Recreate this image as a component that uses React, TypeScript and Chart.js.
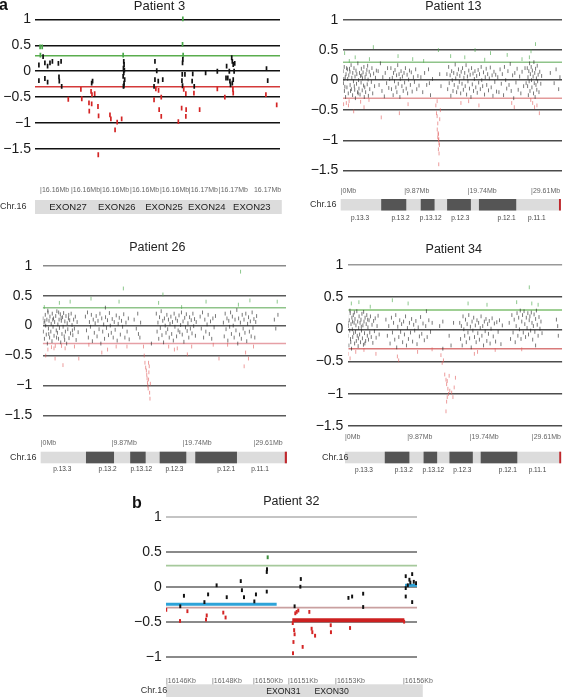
import { useEffect, useRef } from "react";
import { Chart, registerables } from "chart.js";
Chart.register(...registerables);

const FONT = "'Liberation Sans', Arial, Helvetica, sans-serif";

// ---------- shared axis data ----------
const yTicks = [1, 0.5, 0, -0.5, -1, -1.5];
const yTickLabels = ["1", "0.5", "0", "−0.5", "−1", "−1.5"];
const yTicks32 = [1, 0.5, 0, -0.5, -1];
const yTickLabels32 = ["1", "0.5", "0", "−0.5", "−1"];
const gainCut = 0.3;
const lossCut = -0.3;

// ---------- chromosome 16p ideogram (Mb) ----------
const chrTickPos = [0, 9.87, 19.74, 29.61];
const chrTickLabels = ["|0Mb", "|9.87Mb", "|19.74Mb", "|29.61Mb"];
const chrStart = 0;
const chrEnd = 34.25;
const bandStart = [6.3, 12.45, 16.55, 21.5];
const bandEnd = [10.2, 14.6, 20.25, 27.3];
const cenStart = 33.95;
const bandLabels = ["p.13.3", "p.13.2", "p.13.12", "p.12.3", "p.12.1", "p.11.1"];
const bandLabelPos = [3.0, 9.3, 14.0, 18.6, 25.8, 30.5];

// ---------- Patient 3 (kb) ----------
const p3TickPos = [16155.17, 16156.2, 16157.17, 16158.17, 16159.17, 16160.13, 16161.13, 16162.3];
const p3TickLabels = ["|16.16Mb", "|16.16Mb", "|16.16Mb", "|16.16Mb", "|16.16Mb", "|16.17Mb", "|16.17Mb", "16.17Mb"];
const p3Exons = ["EXON27", "EXON26", "EXON25", "EXON24", "EXON23"];
const p3ExonPos = [16156.1, 16157.73, 16159.3, 16160.73, 16162.23];
const p3Points: [number, number][] = [
  [16155.17, 0.47], [16155.24, 0.47], [16155.18, 0.31], [16155.27, 0.28], [16155.13, 0.12], [16155.33, 0.16],
  [16155.42, 0.1], [16155.5, 0.16], [16155.58, 0.19], [16155.13, -0.18], [16155.33, -0.14], [16155.42, -0.21],
  [16155.78, 0.15], [16155.87, 0.19], [16155.8, -0.11], [16155.81, -0.19], [16155.89, -0.29], [16156.11, -0.54],
  [16156.53, -0.35], [16156.56, -0.53], [16156.89, -0.23], [16156.92, -0.19], [16156.87, -0.39], [16156.9, -0.45],
  [16156.99, -0.43], [16156.8, -0.61], [16156.81, -0.77], [16156.89, -0.63], [16157.1, -0.68], [16157.12, -0.86],
  [16157.5, -0.84], [16157.53, -0.92], [16157.74, -0.98], [16157.67, -1.13], [16157.89, -0.92], [16157.11, -1.61],
  [16157.94, 0.31], [16157.96, 0.19], [16157.97, 0.13], [16157.95, 0.06], [16157.98, 0.02], [16157.96, -0.03],
  [16157.94, -0.1], [16157.99, -0.16], [16157.97, -0.23], [16157.96, -0.28], [16157.95, -0.29],
  [16159.0, 0.19], [16159.06, 0.01], [16159.0, -0.16], [16159.11, -0.19], [16159.26, -0.16], [16158.97, -0.29],
  [16159.03, -0.34], [16159.12, -0.37], [16159.21, -0.5], [16158.97, -0.55], [16159.14, -0.74], [16159.21, -0.87],
  [16159.78, -0.97], [16159.93, 1.01], [16159.92, 0.52], [16159.94, 0.31], [16159.93, 0.23], [16159.92, 0.16],
  [16159.91, -0.06], [16160.0, -0.06], [16159.9, -0.18], [16159.92, -0.28], [16159.96, -0.35], [16160.03, -0.43],
  [16159.89, -0.71], [16160.04, -0.74], [16160.03, -0.87], [16160.26, -0.05], [16160.31, -0.29], [16160.24, -0.19],
  [16160.3, -0.42], [16160.49, -0.74], [16160.69, -0.03], [16161.08, 0.0], [16161.08, -0.34], [16161.33, -0.5],
  [16161.39, 0.1], [16161.48, 0.0], [16161.37, -0.13], [16161.43, -0.13], [16161.5, -0.19], [16161.56, 0.26],
  [16161.58, 0.19], [16161.61, 0.13], [16161.66, 0.15], [16161.64, 0.0], [16161.61, -0.16], [16161.58, -0.23],
  [16161.52, -0.26], [16161.6, -0.35], [16161.61, -0.42], [16162.72, 0.05], [16162.76, -0.18], [16162.7, -0.45],
  [16163.06, -0.65],
];

// ---------- Patient 13 (Mb) ----------
const p13Points: [number, number][] = [
  [0.37, 0.15], [0.42, -0.05], [0.55, 0.22], [0.58, -0.18], [0.71, 0.05], [0.76, -0.28], [0.83, 0.1], [0.97, -0.12],
  [1.04, 0.18], [1.09, 0.02], [1.18, -0.22], [1.26, 0.08], [1.31, -0.35], [1.44, 0.14], [1.47, -0.08], [1.62, 0.25],
  [1.66, -0.15], [1.73, 0.04], [1.85, -0.25], [1.88, 0.12], [1.99, -0.02], [2.07, 0.2], [2.12, -0.1], [2.23, 0.06],
  [2.29, -0.3], [2.38, 0.16], [2.46, -0.06], [2.51, 0.1], [2.63, -0.2], [2.67, 0.28], [2.78, 0.0], [2.84, -0.14],
  [2.93, 0.12], [3.01, -0.24], [3.08, 0.07], [3.17, -0.04], [3.22, 0.19], [3.35, -0.17], [3.39, 0.03], [3.48, 0.13],
  [3.56, -0.09], [3.61, 0.22], [3.74, -0.12], [3.79, 0.05], [3.88, -0.2], [3.95, 0.1], [4.07, 0.17], [4.13, -0.07],
  [4.26, 0.01], [4.31, -0.26], [4.44, 0.14], [4.52, -0.15], [4.63, 0.08], [4.77, -0.03], [4.86, 0.2], [4.98, -0.22],
  [5.12, 0.11], [5.27, -0.1], [5.41, 0.04], [5.55, 0.16], [0.49, 0.02], [0.92, 0.2], [1.53, -0.18], [2.18, -0.16],
  [2.72, -0.22], [3.28, 0.08], [3.67, -0.28], [4.19, 0.24], [0.65, -0.11], [1.37, 0.19],
  [0.61, 0.45], [1.21, -0.42], [2.26, 0.38], [3.63, -0.45], [5.08, 0.55], [4.47, 0.35], [2.02, -0.52], [1.34, 0.32],
  [0.88, -0.38], [0.45, -0.4], [3.1, -0.36], [4.4, -0.33],
  [5.83, 0.15], [5.97, -0.08], [6.18, 0.28], [6.42, -0.18], [6.55, 0.05], [6.79, -0.27], [6.93, 0.12], [7.14, -0.05],
  [7.29, 0.2], [7.48, -0.13], [7.62, 0.02], [6.31, -0.62],
  [7.81, 0.2], [7.9, -0.15], [8.03, 0.04], [8.16, -0.25], [8.22, 0.12], [8.37, -0.02], [8.45, 0.17], [8.58, -0.12],
  [8.69, 0.08], [8.74, -0.2], [8.87, 0.25], [8.96, -0.06], [9.08, 0.1], [9.21, -0.28], [9.27, 0.02], [9.39, 0.15],
  [9.52, -0.1], [9.6, 0.06], [9.73, -0.18], [9.85, 0.12], [9.94, -0.04], [10.07, 0.2], [10.19, -0.14], [10.33, 0.09],
  [10.41, -0.22], [10.56, 0.01], [10.7, 0.16], [10.84, -0.08], [10.98, 0.13], [11.12, -0.19], [11.31, 0.05], [11.47, -0.03],
  [11.66, 0.18], [11.83, -0.15], [12.01, 0.07], [12.18, -0.09], [8.92, 0.4], [10.48, -0.4], [9.13, -0.55], [11.2, 0.35],
  [12.47, 0.05], [12.76, -0.2], [13.05, 0.12], [13.38, -0.08], [13.66, 0.18], [13.97, -0.25], [14.28, 0.02], [12.9, 0.32],
  [13.8, -0.05],
  [14.8, -0.42], [14.9, -0.55], [15.0, -0.6], [15.1, -0.72], [15.02, -0.82], [15.2, -0.9], [15.1, -0.95], [15.22, -1.0],
  [15.3, -1.05], [15.15, -0.88], [15.25, -0.98], [15.35, -1.08], [15.2, -1.15], [15.3, -1.22], [15.25, -1.4], [15.4, -0.65],
  [15.5, -0.5], [15.0, -0.35], [15.4, 0.1], [15.6, -0.1], [15.2, 0.5],
  [16.52, 0.1], [16.64, -0.15], [16.79, 0.22], [16.88, -0.05], [17.02, 0.08], [17.13, -0.26], [17.26, 0.15], [17.35, 0.0],
  [17.47, -0.18], [17.58, 0.12], [17.66, -0.08], [17.81, 0.26], [17.89, 0.03], [18.03, -0.2], [18.11, 0.1], [18.24, -0.12],
  [18.32, 0.18], [18.45, -0.03], [18.53, 0.07], [18.66, -0.22], [18.74, 0.14], [18.87, -0.06], [18.95, 0.2], [19.08, -0.16],
  [19.16, 0.04], [19.29, 0.12], [19.37, -0.1], [19.5, 0.25], [19.58, -0.24], [19.71, 0.06], [19.79, -0.02], [19.92, 0.16],
  [20.03, -0.14], [20.14, 0.09], [20.26, -0.28], [20.35, 0.2], [20.47, -0.07], [20.58, 0.11], [20.66, -0.18], [20.79, 0.02],
  [20.88, 0.15], [21.01, -0.12], [21.15, 0.07], [21.24, -0.21], [21.38, 0.17], [21.46, -0.04], [21.59, 0.1], [21.72, -0.15],
  [21.85, 0.22], [21.94, 0.0], [22.08, -0.1], [22.21, 0.13], [22.37, -0.24], [22.49, 0.05], [22.63, 0.19], [22.71, -0.08],
  [22.86, 0.1], [22.99, -0.17], [23.12, 0.03], [23.27, 0.21], [23.41, -0.12], [23.55, 0.08], [23.68, -0.26], [23.84, 0.14],
  [23.97, -0.03], [24.11, 0.09], [24.24, -0.19], [17.1, 0.4], [19.3, 0.38], [21.5, -0.42], [23.3, 0.45], [18.7, -0.38],
  [20.9, 0.5], [19.9, -0.35], [22.4, 0.34],
  [24.43, 0.05], [24.61, -0.2], [24.79, 0.18], [24.98, -0.06], [25.14, 0.1], [25.33, -0.25], [25.47, 0.22], [25.66, 0.0],
  [25.82, -0.14], [26.01, 0.15], [26.18, -0.08], [26.37, 0.27], [26.52, -0.18], [26.74, 0.08], [26.91, -0.3], [27.08, 0.12],
  [27.26, -0.04], [27.44, 0.19], [27.61, -0.16], [27.83, 0.06], [28.02, -0.22], [28.21, 0.14], [28.45, -0.1], [28.67, 0.2],
  [28.84, -0.05], [25.9, 0.42], [27.0, -0.45], [28.2, 0.35], [26.6, -0.38],
  [29.02, 0.2], [29.07, -0.1], [29.13, 0.05], [29.19, -0.25], [29.26, 0.15], [29.31, -0.02], [29.38, 0.28], [29.44, -0.18],
  [29.5, 0.1], [29.56, -0.33], [29.63, 0.22], [29.68, 0.0], [29.74, -0.12], [29.81, 0.16], [29.86, -0.38], [29.93, 0.06],
  [29.99, -0.22], [30.05, 0.3], [30.11, -0.05], [30.18, 0.12], [30.24, -0.28], [30.31, 0.19], [30.37, -0.08], [30.44, 0.03],
  [30.5, -0.16], [30.57, 0.24], [30.63, -0.02], [30.71, 0.09], [30.84, -0.2], [30.96, 0.14], [31.12, -0.06], [31.25, 0.07],
  [29.6, 0.48], [30.3, 0.6], [30.9, -0.55], [30.52, -0.42], [29.35, 0.38], [30.15, -0.45],
  [32.6, 0.12], [33.2, -0.05], [33.5, 0.18], [33.9, -0.15], [34.1, 0.05],
];

// ---------- Patient 26 (Mb) ----------
const p26Points: [number, number][] = [
  [0.31, 0.12], [0.36, -0.1], [0.47, 0.05], [0.52, -0.22], [0.64, 0.18], [0.69, 0.0], [0.78, -0.15], [0.86, 0.1],
  [0.93, -0.3], [1.02, 0.22], [1.08, -0.05], [1.16, 0.08], [1.24, -0.2], [1.29, 0.15], [1.41, -0.1], [1.46, 0.03],
  [1.57, -0.26], [1.61, 0.2], [1.72, -0.02], [1.79, 0.12], [1.86, -0.17], [1.94, 0.06], [2.03, -0.34], [2.09, 0.16],
  [2.17, -0.08], [2.25, 0.24], [2.33, -0.12], [2.39, 0.02], [2.48, -0.22], [2.56, 0.1], [2.61, -0.04], [2.73, 0.19],
  [2.79, -0.28], [2.87, 0.08], [2.96, -0.14], [3.04, 0.14], [3.12, -0.02], [3.19, 0.21], [3.27, -0.18], [3.36, 0.07],
  [3.44, -0.1], [3.52, 0.16], [3.61, -0.3], [3.69, 0.04], [3.77, -0.06], [3.86, 0.12], [3.94, -0.21], [4.03, 0.09],
  [4.15, -0.13], [4.24, 0.2], [4.36, 0.01], [4.47, -0.16], [4.58, 0.1], [4.69, -0.05], [4.82, 0.15], [4.93, -0.24],
  [5.07, 0.06], [5.21, -0.11], [0.58, 0.08], [1.12, -0.14], [1.68, 0.1], [2.21, -0.2], [2.84, 0.13], [3.33, -0.24],
  [3.9, 0.18], [4.41, -0.08], [0.99, 0.25], [2.5, 0.22],
  [0.5, 0.31], [1.0, -0.4], [1.5, -0.36], [2.0, -0.55], [3.1, -0.66], [2.6, 0.38], [4.1, 0.4], [3.4, -0.38], [0.7, -0.5],
  [4.7, -0.35], [5.3, -0.55], [1.85, -0.38], [2.9, -0.34],
  [6.22, 0.15], [6.37, -0.08], [6.51, 0.22], [6.63, -0.2], [6.78, 0.06], [6.92, -0.02], [7.05, 0.18], [7.19, -0.26],
  [7.31, 0.1], [7.46, -0.12], [7.58, 0.04], [7.72, 0.16], [7.84, -0.18], [7.97, 0.08], [8.12, -0.06], [8.24, 0.2],
  [8.37, -0.3], [8.49, 0.12], [8.63, -0.1], [8.76, 0.02], [8.88, -0.22], [9.02, 0.14], [9.15, -0.04], [9.29, 0.09],
  [9.43, -0.16], [9.56, 0.21], [9.68, 0.0], [9.82, -0.12], [9.95, 0.11], [10.09, -0.2], [10.23, 0.06], [10.36, -0.07],
  [10.51, 0.17], [10.64, -0.25], [10.78, 0.03], [10.93, 0.13], [11.08, -0.15], [11.24, 0.08], [11.39, -0.02], [11.55, 0.19],
  [11.71, -0.2], [11.86, 0.05], [12.02, -0.1], [12.19, 0.12], [12.31, -0.23],
  [7.0, 0.45], [8.5, -0.45], [9.0, 0.3], [10.5, -0.35], [11.5, 0.62], [12.0, -0.35], [6.7, -0.32], [10.9, 0.4], [9.3, -0.4],
  [13.0, 0.1], [13.3, -0.05], [13.6, -0.14], [13.8, -0.2], [13.5, 0.2], [13.9, 0.05],
  [14.3, -0.35], [14.4, -0.5], [14.5, -0.62], [14.6, -0.7], [14.7, -0.75], [14.75, -0.82], [14.8, -0.88], [14.85, -0.95],
  [14.9, -1.0], [14.95, -1.05], [15.0, -0.9], [15.05, -0.78], [15.1, -0.68], [15.15, -1.12], [15.2, -1.22], [15.25, -0.97],
  [15.0, -0.62], [15.4, -0.3],
  [16.08, 0.2], [16.19, -0.1], [16.31, 0.05], [16.42, -0.22], [16.53, 0.14], [16.64, -0.04], [16.76, 0.24], [16.87, -0.16],
  [16.98, 0.08], [17.09, -0.28], [17.21, 0.12], [17.32, 0.0], [17.43, -0.12], [17.55, 0.18], [17.66, -0.06], [17.77, 0.1],
  [17.88, -0.2], [17.99, 0.03], [18.11, 0.15], [18.22, -0.14], [18.33, 0.06], [18.45, -0.25], [18.56, 0.2], [18.67, -0.02],
  [18.78, 0.12], [18.9, -0.18], [19.01, 0.08], [19.12, -0.08], [19.24, 0.17], [19.35, -0.11], [19.46, 0.01], [19.58, 0.22],
  [19.69, -0.15], [19.8, 0.07], [19.92, -0.27], [20.03, 0.13], [20.14, -0.03], [20.26, 0.19], [20.37, -0.09], [20.48, 0.04],
  [20.6, -0.2], [20.71, 0.14], [20.82, -0.05], [20.94, 0.09], [21.05, -0.13], [21.17, 0.2], [21.28, -0.01], [21.4, 0.11],
  [21.52, -0.17], [21.63, 0.06], [16.4, 0.38], [17.8, -0.35], [18.6, -0.4], [19.6, 0.31], [20.4, -0.48], [21.0, -0.35],
  [19.0, -0.38], [17.0, 0.52],
  [22.18, 0.15], [22.34, -0.05], [22.51, 0.22], [22.66, -0.2], [22.83, 0.1], [22.97, -0.1], [23.14, 0.02], [23.29, 0.18],
  [23.46, -0.14], [23.62, 0.07], [23.79, -0.22], [23.95, 0.12], [24.12, -0.03], [24.31, 0.16], [23.0, 0.4], [24.0, -0.32],
  [25.41, 0.05], [25.53, -0.18], [25.66, 0.2], [25.78, -0.06], [25.91, 0.12], [26.03, -0.25], [26.16, 0.08], [26.28, -0.02],
  [26.41, 0.22], [26.53, -0.14], [26.66, 0.15], [26.78, 0.0], [26.91, -0.2], [27.03, 0.1], [27.16, -0.08], [27.28, 0.26],
  [27.41, -0.3], [27.53, 0.12], [27.66, -0.15], [27.78, 0.05], [27.91, -0.22], [28.03, 0.18], [28.16, -0.05], [28.28, 0.1],
  [28.41, -0.12], [28.53, 0.2], [28.66, -0.26], [28.78, 0.03], [28.91, 0.14], [29.03, -0.1], [29.16, 0.07], [29.28, -0.18],
  [29.41, 0.22], [29.53, -0.04], [29.66, 0.11], [29.78, -0.2], [29.91, 0.06], [30.03, 0.16],
  [26.0, -0.32], [27.8, 0.9], [28.5, -0.45], [29.1, 0.42], [28.9, -0.55], [29.6, -0.35], [28.3, -0.68], [27.5, 0.35],
  [24.8, -0.55], [32.5, 0.1], [32.7, -0.05], [32.9, 0.4], [33.0, 0.18],
];

// ---------- Patient 34 (Mb) ----------
const p34Points: [number, number][] = [
  [0.41, 0.2], [0.46, -0.1], [0.54, 0.05], [0.61, -0.25], [0.67, 0.14], [0.74, -0.02], [0.82, 0.25], [0.87, -0.15],
  [0.95, 0.08], [1.03, -0.3], [1.09, 0.18], [1.16, 0.0], [1.22, -0.12], [1.31, 0.22], [1.37, -0.06], [1.44, 0.1],
  [1.52, -0.22], [1.58, 0.16], [1.66, -0.04], [1.73, 0.06], [1.79, -0.18], [1.87, 0.28], [1.94, -0.1], [2.01, 0.12],
  [2.08, -0.26], [2.16, 0.02], [2.23, 0.2], [2.31, -0.08], [2.38, 0.1], [2.46, -0.2], [2.53, 0.15], [2.61, -0.02],
  [2.68, 0.24], [2.76, -0.14], [2.83, 0.06], [2.92, -0.24], [3.01, 0.12], [3.09, -0.06], [3.18, 0.18], [3.27, -0.18],
  [3.36, 0.08], [3.45, 0.22], [3.54, -0.1], [3.63, 0.03], [3.72, -0.16], [3.81, 0.14], [3.92, -0.05], [4.03, 0.2],
  [4.16, -0.12], [4.28, 0.07], [4.41, -0.21], [4.53, 0.13], [4.66, -0.03], [4.79, 0.17], [4.93, -0.13], [5.08, 0.05],
  [5.24, 0.21], [5.41, -0.08], [0.5, 0.1], [0.91, -0.2], [1.48, 0.26], [2.12, -0.14], [2.58, 0.04], [3.14, -0.22],
  [3.59, 0.15], [0.78, 0.29], [1.2, 0.12], [2.95, 0.27],
  [0.5, -0.38], [1.0, 0.4], [1.7, -0.35], [2.2, 0.42], [3.0, -0.32], [4.0, 0.35], [4.9, -0.38], [0.8, -0.45],
  [6.48, 0.15], [6.71, -0.1], [6.93, 0.05], [7.14, -0.22], [7.36, 0.18], [7.52, -0.05], [7.69, 0.1], [7.88, -0.16],
  [8.04, 0.22], [8.19, -0.28], [8.36, 0.04], [8.52, -0.12], [8.67, 0.14], [8.81, -0.04], [8.97, 0.08], [9.13, -0.2],
  [9.28, 0.12], [9.42, -0.08], [9.59, 0.2], [9.74, -0.25], [9.89, 0.02], [10.05, -0.15], [10.21, 0.1], [10.38, -0.05],
  [10.55, 0.16], [10.71, -0.19], [10.88, 0.07], [11.04, -0.02], [11.23, 0.13], [11.41, -0.23], [11.6, 0.03], [11.79, -0.11],
  [11.97, 0.19], [12.16, -0.07], [12.36, 0.09], [12.57, -0.17], [12.79, 0.05], [13.02, -0.12], [13.28, 0.14], [13.55, -0.04],
  [13.81, 0.1], [7.5, 0.45], [8.3, -0.42], [8.5, -0.48], [10.0, 0.4], [11.5, -0.35], [12.9, 0.28], [13.8, -0.31],
  [15.0, 0.05], [15.5, 0.12], [16.5, -0.1],
  [15.2, -0.4], [15.4, -0.52], [15.6, -0.48], [15.8, -0.7], [16.0, -0.78], [16.1, -0.85], [16.2, -0.8], [16.3, -0.92],
  [16.4, -1.0], [16.2, -1.05], [16.1, -1.12], [16.5, -0.72], [16.6, -0.95], [16.9, -0.98], [17.1, -1.05], [17.3, -0.9],
  [17.5, -0.75], [16.0, -1.27], [15.5, -0.3], [16.8, -0.25], [17.2, 0.1],
  [18.18, 0.1], [18.31, -0.15], [18.44, 0.05], [18.57, -0.25], [18.7, 0.2], [18.83, 0.0], [18.96, -0.1], [19.09, 0.15],
  [19.22, -0.2], [19.35, 0.08], [19.48, -0.05], [19.61, 0.22], [19.74, -0.14], [19.87, 0.04], [20.0, -0.28], [20.13, 0.12],
  [20.26, -0.02], [20.39, 0.18], [20.52, -0.12], [20.65, 0.06], [20.78, -0.2], [20.91, 0.14], [21.04, -0.06], [21.17, 0.1],
  [21.3, -0.16], [21.43, 0.02], [21.56, 0.2], [21.69, -0.1], [21.82, 0.05], [21.95, -0.25], [22.08, 0.12], [22.21, -0.03],
  [22.34, 0.16], [22.47, -0.18], [22.6, 0.08], [22.73, -0.07], [22.86, 0.13], [22.99, -0.22], [23.14, 0.01], [23.31, 0.17],
  [23.49, -0.11], [23.67, 0.09], [23.86, -0.19], [24.05, 0.11], [24.26, -0.04], [24.48, 0.14], [24.71, -0.23], [24.93, 0.06],
  [19.5, 0.4], [21.0, -0.35], [22.5, 0.38], [23.8, -0.32], [20.5, -0.38],
  [26.02, 0.1], [26.23, -0.15], [26.44, 0.22], [26.63, -0.05], [26.81, 0.15], [26.97, -0.2], [27.12, 0.05], [27.26, 0.25],
  [27.39, -0.1], [27.52, 0.18], [27.64, 0.0], [27.77, 0.29], [27.89, -0.15], [28.01, 0.12], [28.13, 0.22], [28.25, -0.05],
  [28.37, 0.28], [28.49, 0.08], [28.61, -0.12], [28.73, 0.18], [28.85, 0.02], [28.97, 0.25], [29.08, -0.08], [29.19, 0.14],
  [29.3, 0.2], [29.41, -0.02], [29.52, 0.26], [29.63, 0.1], [29.74, -0.16], [29.85, 0.05], [29.96, 0.23], [30.08, -0.04],
  [30.2, 0.16], [30.33, 0.29], [30.46, 0.07], [30.6, -0.1], [30.74, 0.19], [30.89, 0.01], [31.05, 0.12], [31.22, -0.06],
  [29.2, 0.65], [29.6, 0.4], [30.6, 0.38], [28.0, -0.31], [30.2, -0.25], [27.2, 0.42], [33.5, 0.15], [33.8, -0.1], [33.7, 0.05],
];

// ---------- Patient 32 (kb) ----------
const p32TickPos = [16146.0, 16148.0, 16149.78, 16151.3, 16153.35, 16156.3];
const p32TickLabels = ["|16146Kb", "|16148Kb", "|16150Kb", "|16151Kb", "|16153Kb", "|16156Kb"];
const p32Exons = ["EXON31", "EXON30"];
const p32ExonPos = [16151.1, 16153.2];
const p32Points: [number, number][] = [
  [16146.78, -0.13], [16146.62, -0.28], [16147.67, -0.22], [16147.83, -0.11], [16148.2, 0.02], [16148.64, -0.15],
  [16149.25, 0.08], [16149.3, -0.05], [16149.39, -0.15], [16149.84, -0.21], [16149.91, -0.11], [16150.38, 0.21],
  [16150.39, 0.25], [16150.38, -0.07], [16151.59, -0.28], [16151.86, 0.11], [16151.84, 0.0], [16153.93, -0.16],
  [16154.09, -0.14], [16154.57, -0.1], [16154.57, -0.29], [16156.42, 0.15], [16156.7, 0.18], [16156.58, 0.1],
  [16156.62, 0.06], [16156.77, 0.07], [16156.42, -0.02], [16156.51, 0.02], [16156.87, 0.05], [16156.42, -0.14],
  [16156.7, -0.22], [16150.42, 0.42],
  [16146.01, -0.33], [16146.61, -0.49], [16146.93, -0.35], [16147.77, -0.41], [16147.74, -0.47], [16148.49, -0.37],
  [16148.59, -0.44], [16151.62, -0.38], [16151.68, -0.36], [16151.75, -0.34], [16151.51, -0.52], [16151.57, -0.62],
  [16151.59, -0.68], [16151.54, -0.79], [16151.52, -0.95], [16151.94, -0.86], [16152.23, -0.36], [16152.33, -0.6],
  [16152.36, -0.65], [16152.48, -0.7], [16153.16, -0.55], [16153.17, -0.65], [16154.0, -0.59], [16156.35, -0.5],
];
const p32SegStart = [16146.0, 16156.39, 16151.49];
const p32SegEnd = [16150.81, 16156.91, 16156.36];
const p32SegLevel = [-0.25, 0.02, -0.48];

// ---------- panel layout / style ----------
type Mark = { r: number; w: number; neutral: string; loss: string; gain: string };
type Panel = {
  title: string; titleX: number; titleBase: number; titleSize: number;
  letter?: string; letterX?: number; letterBase?: number;
  box: { left: number; top: number; width: number; height: number };
  area: { left: number; right: number; top: number; bottom: number };
  y1: number; ppu: number; xMin: number; xMax: number;
  yT: number[]; yL: string[]; yPad: number; yFont: number;
  grid: string; grid1: string; gridW: number;
  gainLine: string; lossLine: string; cutW: number;
  points: [number, number][]; mark: Mark;
  segs?: { c: string; w: number }[];
  tickPos: number[]; tickLabels: string[]; tickY: number;
  barFrom: number; barTo: number; barTop: number; barBottom: number;
  chrX: number; chrY: number;
  bands?: boolean; bandLabelY?: number;
  exons?: string[]; exonPos?: number[]; exonSize?: number;
};

const denseMark: Mark = { r: 1.9, w: 1, neutral: "rgba(30,30,30,0.6)", loss: "rgba(225,90,90,0.6)", gain: "rgba(80,170,80,0.65)" };

const panels: Panel[] = [
  {
    title: "Patient 3", titleX: 159.5, titleBase: 9.5, titleSize: 13,
    letter: "a", letterX: -1, letterBase: 9.5,
    box: { left: 0, top: 0, width: 290, height: 222 },
    area: { left: 35, right: 280, top: 12, bottom: 165 },
    y1: 19, ppu: 52, xMin: 16155.0, xMax: 16163.17,
    yT: yTicks, yL: yTickLabels, yPad: 4, yFont: 14,
    grid: "#111", grid1: "#111", gridW: 1.6,
    gainLine: "#5aad4e", lossLine: "#d43a3a", cutW: 1.5,
    points: p3Points, mark: { r: 2.4, w: 1.7, neutral: "#111", loss: "#d42525", gain: "#4aa84a" },
    tickPos: p3TickPos, tickLabels: p3TickLabels, tickY: 190.5,
    barFrom: 16155.0, barTo: 16163.23, barTop: 200, barBottom: 214,
    chrX: 0, chrY: 207,
    exons: p3Exons, exonPos: p3ExonPos, exonSize: 9.5,
  },
  {
    title: "Patient 13", titleX: 453.3, titleBase: 9.5, titleSize: 12.5,
    box: { left: 290, top: 0, width: 275, height: 225 },
    area: { left: 343, right: 562, top: 12, bottom: 180 },
    y1: 19, ppu: 60.5, xMin: 0.36, xMax: 34.42,
    yT: yTicks, yL: yTickLabels, yPad: 4.7, yFont: 14,
    grid: "#4a4a4a", grid1: "#555", gridW: 1.5,
    gainLine: "#8fc48a", lossLine: "#e39a9a", cutW: 1.5,
    points: p13Points, mark: denseMark,
    tickPos: chrTickPos, tickLabels: chrTickLabels, tickY: 191,
    barFrom: chrStart, barTo: chrEnd, barTop: 199, barBottom: 210.5,
    chrX: 310, chrY: 204.5, bands: true, bandLabelY: 218.5,
  },
  {
    title: "Patient 26", titleX: 157.3, titleBase: 250.7, titleSize: 12.5,
    box: { left: 0, top: 232, width: 290, height: 245 },
    area: { left: 42.7, right: 286, top: 258, bottom: 428 },
    y1: 265.7, ppu: 59.9, xMin: 0.28, xMax: 34.12,
    yT: yTicks, yL: yTickLabels, yPad: 10.5, yFont: 14,
    grid: "#5a5a5a", grid1: "#8a8a8a", gridW: 1.5,
    gainLine: "#8fc48a", lossLine: "#e6a0a6", cutW: 1.5,
    points: p26Points, mark: denseMark,
    tickPos: chrTickPos, tickLabels: chrTickLabels, tickY: 443.3,
    barFrom: chrStart, barTo: chrEnd, barTop: 451.7, barBottom: 463.3,
    chrX: 10, chrY: 457.5, bands: true, bandLabelY: 469.5,
  },
  {
    title: "Patient 34", titleX: 453.7, titleBase: 252.7, titleSize: 12.5,
    box: { left: 290, top: 232, width: 275, height: 245 },
    area: { left: 348.3, right: 562.3, top: 257, bottom: 432 },
    y1: 264.7, ppu: 64.6, xMin: 0.52, xMax: 34.4,
    yT: yTicks, yL: yTickLabels, yPad: 5, yFont: 14,
    grid: "#4d4d4d", grid1: "#999", gridW: 1.5,
    gainLine: "#7fbf70", lossLine: "#d97a7a", cutW: 1.5,
    points: p34Points, mark: denseMark,
    tickPos: chrTickPos, tickLabels: chrTickLabels, tickY: 436.7,
    barFrom: chrStart, barTo: chrEnd, barTop: 451.7, barBottom: 463.3,
    chrX: 322, chrY: 457.5, bands: true, bandLabelY: 470,
  },
  {
    title: "Patient 32", titleX: 291.3, titleBase: 505.3, titleSize: 12.5,
    letter: "b", letterX: 132, letterBase: 508.3,
    box: { left: 100, top: 485, width: 345, height: 212 },
    area: { left: 166, right: 417, top: 510, bottom: 670 },
    y1: 516.7, ppu: 70, xMin: 16146.0, xMax: 16156.91,
    yT: yTicks32, yL: yTickLabels32, yPad: 4.3, yFont: 14,
    grid: "#8a8a8a", grid1: "#c4c4c4", gridW: 2,
    gainLine: "#a6c99c", lossLine: "#c9a0a0", cutW: 1.8,
    points: p32Points, mark: { r: 1.9, w: 2, neutral: "#111", loss: "#d42525", gain: "#3d8f3d" },
    segs: [{ c: "#2ea3d8", w: 3 }, { c: "#2ea3d8", w: 3 }, { c: "#cc2020", w: 4 }],
    tickPos: p32TickPos, tickLabels: p32TickLabels, tickY: 680.7,
    barFrom: 16146.0, barTo: 16157.16, barTop: 684.3, barBottom: 700,
    chrX: 140.7, chrY: 690.7,
    exons: p32Exons, exonPos: p32ExonPos, exonSize: 8.7,
  },
];

function decor(p: Panel) {
  return {
    id: "decor",
    afterDraw(chart: any) {
      const ctx = chart.ctx as CanvasRenderingContext2D;
      const xs = chart.scales.x;
      const ox = p.box.left;
      const oy = p.box.top;
      ctx.save();
      ctx.fillStyle = "#222";
      ctx.textBaseline = "alphabetic";
      ctx.textAlign = "center";
      ctx.font = `${p.titleSize}px ${FONT}`;
      ctx.fillText(p.title, p.titleX - ox, p.titleBase - oy);
      if (p.letter) {
        ctx.textAlign = "left";
        ctx.font = `bold 16px ${FONT}`;
        ctx.fillStyle = "#111";
        ctx.fillText(p.letter, (p.letterX as number) - ox, (p.letterBase as number) - oy);
      }
      // x tick labels
      ctx.font = `7px ${FONT}`;
      ctx.fillStyle = "#666";
      ctx.textAlign = "left";
      ctx.textBaseline = "middle";
      p.tickPos.forEach((v, i) => ctx.fillText(p.tickLabels[i], xs.getPixelForValue(v), p.tickY - oy));
      // ideogram bar
      const bx0 = xs.getPixelForValue(p.barFrom);
      const bx1 = xs.getPixelForValue(p.barTo);
      ctx.fillStyle = "#dcdcdc";
      ctx.fillRect(bx0, p.barTop - oy, bx1 - bx0, p.barBottom - p.barTop);
      if (p.bands) {
        ctx.fillStyle = "#555";
        bandStart.forEach((s, i) => {
          const a = xs.getPixelForValue(s);
          const b = xs.getPixelForValue(bandEnd[i]);
          ctx.fillRect(a, p.barTop - oy, b - a, p.barBottom - p.barTop);
        });
        ctx.fillStyle = "#c0282d";
        const c0 = xs.getPixelForValue(cenStart);
        ctx.fillRect(c0, p.barTop - oy, Math.max(1.5, bx1 - c0), p.barBottom - p.barTop);
        ctx.fillStyle = "#444";
        ctx.textAlign = "center";
        ctx.font = `6.5px ${FONT}`;
        bandLabels.forEach((t, i) => ctx.fillText(t, xs.getPixelForValue(bandLabelPos[i]), (p.bandLabelY as number) - oy));
      }
      if (p.exons && p.exonPos) {
        ctx.fillStyle = "#222";
        ctx.textAlign = "center";
        ctx.font = `${p.exonSize}px ${FONT}`;
        const my = (p.barTop + Math.min(p.barBottom, 697)) / 2 - oy;
        p.exons.forEach((t, i) => ctx.fillText(t, xs.getPixelForValue((p.exonPos as number[])[i]), my + 0.5));
      }
      ctx.fillStyle = "#333";
      ctx.textAlign = "left";
      ctx.font = `9px ${FONT}`;
      ctx.fillText("Chr.16", p.chrX - ox, p.chrY - oy);
      ctx.restore();
    },
  };
}

function buildConfig(p: Panel): any {
  const top = p.yT[0];
  const yMax = top + (p.y1 - p.area.top) / p.ppu;
  const yMin = top - (p.area.bottom - p.y1) / p.ppu;
  const m = p.mark;
  const datasets: any[] = [
    {
      data: p.points.map(([x, y]) => ({ x, y })),
      pointStyle: "line",
      pointRotation: 90,
      pointRadius: m.r,
      pointHoverRadius: m.r,
      pointBorderWidth: m.w,
      pointBorderColor: (c: any) => {
        const v = c.raw ? c.raw.y : 0;
        return v > gainCut ? m.gain : v < lossCut ? m.loss : m.neutral;
      },
      order: 0,
    },
    {
      data: [{ x: p.xMin, y: gainCut }, { x: p.xMax, y: gainCut }],
      showLine: true, pointRadius: 0, borderColor: p.gainLine, borderWidth: p.cutW, order: 5,
    },
    {
      data: [{ x: p.xMin, y: lossCut }, { x: p.xMax, y: lossCut }],
      showLine: true, pointRadius: 0, borderColor: p.lossLine, borderWidth: p.cutW, order: 5,
    },
  ];
  if (p.segs) {
    p32SegStart.forEach((s, i) => {
      datasets.push({
        data: [{ x: s, y: p32SegLevel[i] }, { x: p32SegEnd[i], y: p32SegLevel[i] }],
        showLine: true, pointRadius: 0, borderColor: p.segs![i].c, borderWidth: p.segs![i].w,
        borderCapStyle: "butt", order: 3,
      });
    });
  }
  return {
    type: "scatter",
    data: { datasets },
    options: {
      animation: false,
      responsive: false,
      maintainAspectRatio: false,
      events: [],
      layout: {
        padding: {
          left: 0,
          right: p.box.left + p.box.width - p.area.right,
          top: p.area.top - p.box.top,
          bottom: p.box.top + p.box.height - p.area.bottom,
        },
      },
      plugins: { legend: { display: false }, tooltip: { enabled: false }, title: { display: false } },
      scales: {
        x: { type: "linear", min: p.xMin, max: p.xMax, display: false },
        y: {
          type: "linear",
          min: yMin,
          max: yMax,
          afterBuildTicks: (s: any) => {
            s.ticks = p.yT.map((v) => ({ value: v }));
          },
          afterFit: (s: any) => {
            s.width = p.area.left - p.box.left;
          },
          ticks: {
            autoSkip: false,
            padding: p.yPad,
            color: "#1a1a1a",
            font: { family: FONT, size: p.yFont },
            callback: (_v: any, i: number) => p.yL[i],
          },
          grid: {
            drawTicks: false,
            color: (c: any) => (c.tick && c.tick.value === 1 ? p.grid1 : p.grid),
            lineWidth: p.gridW,
          },
          border: { display: false },
        },
      },
    },
    plugins: [decor(p)],
  };
}

function PanelChart({ p }: { p: Panel }) {
  const ref = useRef<HTMLCanvasElement>(null);
  useEffect(() => {
    const chart = new Chart(ref.current as HTMLCanvasElement, buildConfig(p));
    return () => chart.destroy();
  }, [p]);
  return (
    <canvas
      ref={ref}
      width={p.box.width}
      height={p.box.height}
      style={{ position: "absolute", left: p.box.left, top: p.box.top, width: p.box.width, height: p.box.height }}
    />
  );
}

export default function App() {
  return (
    <div style={{ position: "absolute", left: 0, top: 0, width: 565, height: 697, background: "#fff", overflow: "hidden" }}>
      {panels.map((p) => (
        <PanelChart key={p.title} p={p} />
      ))}
    </div>
  );
}
